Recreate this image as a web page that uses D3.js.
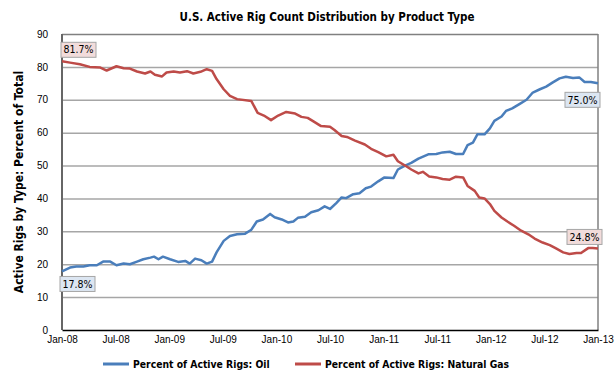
<!DOCTYPE html>
<html>
<head>
<meta charset="utf-8">
<script src="https://cdn.jsdelivr.net/npm/d3@7"></script>
<style>
  body { margin: 0; background: #fff; }
  svg { font-family: "Liberation Sans Narrow", "DejaVu Sans Condensed", "Arial Narrow", sans-serif; }
</style>
</head>
<body>
<svg id="chart" width="615" height="377"></svg>
<script>
// months since Jan-08
const oilMonths = [0, 0.9, 1.6, 2.4, 3.1, 3.9, 4.6, 5.4, 6.1, 6.9, 7.6, 8.4, 9.1, 9.9, 10.3, 10.8, 11.3, 12.1, 13.0, 13.8,
  14.3, 14.9, 15.6, 16.2, 16.8, 17.3, 18.1, 18.8, 19.6, 20.5, 21.2, 21.8, 22.5, 23.3, 23.8, 24.6, 25.3, 25.9, 26.4, 27.2,
  27.9, 28.7, 29.4, 30.0, 30.7, 31.3, 31.8, 32.6, 33.3, 34.0, 34.6, 35.4, 36.1, 37.1, 37.6, 38.4, 39.1, 39.9, 41.0, 41.9,
  42.6, 43.4, 44.1, 44.9, 45.4, 46.0, 46.5, 47.3, 47.9, 48.4, 49.2, 49.7, 50.4, 51.2, 52.0, 52.7, 53.5, 54.2, 54.9, 55.7,
  56.4, 57.2, 57.9, 58.5, 59.2, 60];
const oilValues = [17.8, 19.0, 19.3, 19.3, 19.7, 19.7, 20.8, 20.8, 19.7, 20.2, 20.0, 20.8, 21.5, 22.0, 22.3, 21.5, 22.3, 21.5, 20.7, 21.0,
  20.2, 21.7, 21.2, 20.2, 20.8, 23.6, 27.1, 28.6, 29.1, 29.3, 30.5, 33.0, 33.6, 35.3, 34.3, 33.6, 32.7, 33.0, 34.1, 34.4,
  35.8, 36.4, 37.6, 36.8, 38.6, 40.3, 40.1, 41.3, 41.6, 43.1, 43.6, 45.2, 46.4, 46.2, 48.8, 50.0, 50.8, 52.1, 53.4, 53.5,
  54.0, 54.2, 53.5, 53.5, 56.2, 57.0, 59.5, 59.5, 61.3, 63.6, 64.9, 66.6, 67.4, 68.7, 70.0, 72.2, 73.2, 74.0, 75.2, 76.5,
  77.0, 76.6, 76.8, 75.4, 75.4, 75.0];

const gasMonths = [0, 0.9, 2.0, 3.1, 4.3, 5.0, 6.1, 6.9, 7.6, 8.4, 9.3, 9.9, 10.4, 11.2, 11.7, 12.5, 13.2, 14.0, 14.7, 15.5,
  16.2, 16.8, 17.3, 18.1, 18.8, 19.6, 21.2, 21.9, 22.6, 23.4, 24.2, 25.1, 26.1, 26.8, 27.5, 28.1, 29.0, 30.0, 30.5, 31.3,
  31.9, 32.8, 33.9, 34.6, 35.4, 36.3, 37.1, 37.6, 38.4, 39.1, 39.9, 40.4, 41.1, 41.9, 42.6, 43.4, 44.1, 44.9, 45.4, 46.2,
  46.7, 47.3, 47.9, 48.4, 49.2, 49.9, 50.6, 51.4, 52.2, 52.9, 53.8, 54.6, 55.3, 56.1, 56.8, 57.6, 58.1, 58.9, 59.4, 60];
const gasValues = [81.7, 81.3, 80.8, 80.0, 79.8, 78.9, 80.2, 79.6, 79.5, 78.6, 78.0, 78.6, 77.6, 77.1, 78.3, 78.6, 78.3, 78.7, 78.0, 78.5,
  79.3, 78.8, 76.3, 73.2, 71.2, 70.2, 69.6, 66.0, 65.2, 63.8, 65.2, 66.3, 65.8, 64.8, 64.5, 63.5, 62.0, 61.8, 60.8, 59.0,
  58.7, 57.6, 56.4, 55.1, 54.1, 52.8, 53.3, 51.3, 50.0, 48.8, 47.6, 48.1, 46.7, 46.4, 45.9, 45.7, 46.6, 46.4, 43.8, 42.3,
  40.3, 40.0, 38.3, 36.2, 34.2, 32.9, 31.7, 30.2, 29.1, 27.8, 26.6, 25.8, 24.8, 23.6, 23.1, 23.4, 23.4, 24.9, 24.9, 24.8];

const xTickMonths = [0, 6, 12, 18, 24, 30, 36, 42, 48, 54, 60];
const xTickLabels = ["Jan-08", "Jul-08", "Jan-09", "Jul-09", "Jan-10", "Jul-10", "Jan-11", "Jul-11", "Jan-12", "Jul-12", "Jan-13"];
const yTicks = [0, 10, 20, 30, 40, 50, 60, 70, 80, 90];
const seriesNames = ["Percent of Active Rigs: Oil", "Percent of Active Rigs: Natural Gas"];

const oilColor = "#4a7ebb";
const gasColor = "#be4b48";

const svg = d3.select("#chart");
const margin = {top: 34, right: 17, bottom: 47, left: 62};
const width = 615 - margin.left - margin.right;
const height = 377 - margin.top - margin.bottom;

const x = d3.scaleLinear().domain([0, 60]).range([0, width]);
const y = d3.scaleLinear().domain([0, 90]).range([height, 0]);

const g = svg.append("g").attr("transform", "translate(" + margin.left + "," + margin.top + ")");

// gridlines + y labels
const yAxis = g.append("g")
  .call(d3.axisLeft(y).tickValues(yTicks).tickSize(-width).tickPadding(14));
yAxis.select(".domain").remove();
yAxis.selectAll(".tick line")
  .attr("stroke", d => d === 90 ? "#808080" : "#a6a6a6")
  .attr("stroke-width", 1.5)
  .style("display", d => d === 0 ? "none" : null);
yAxis.selectAll(".tick text").style("font-size", "10px").attr("fill", "#000");

// right border
g.append("line")
  .attr("x1", width).attr("x2", width).attr("y1", 0).attr("y2", height)
  .attr("stroke", "#808080").attr("stroke-width", 1.5);

// left axis line
g.append("line")
  .attr("x1", 0).attr("x2", 0).attr("y1", 0).attr("y2", height)
  .attr("stroke", "#666").attr("stroke-width", 2);

// x axis
const xAxis = g.append("g")
  .attr("transform", "translate(0," + height + ")")
  .call(d3.axisBottom(x).tickValues(xTickMonths).tickSize(0).tickPadding(6)
    .tickFormat((d, i) => xTickLabels[i]));
xAxis.select(".domain").attr("stroke", "#000").attr("stroke-width", 1.5);
xAxis.selectAll(".tick text").style("font-size", "10px").attr("fill", "#000");

// lines
const line = d3.line().x(d => x(d[0])).y(d => y(d[1]));
const oilData = oilMonths.map((m, i) => [m, oilValues[i]]);
const gasData = gasMonths.map((m, i) => [m, gasValues[i]]);

g.append("path").datum(oilData)
  .attr("fill", "none").attr("stroke", oilColor).attr("stroke-width", 2.5)
  .attr("stroke-linejoin", "round").attr("d", line);
g.append("path").datum(gasData)
  .attr("fill", "none").attr("stroke", gasColor).attr("stroke-width", 2.5)
  .attr("stroke-linejoin", "round").attr("d", line);

// value labels at the ends
function valueLabel(px, py, text, fill, anchor) {
  const w = 35, h = 15;
  const left = anchor === "end" ? px - w : px;
  g.append("rect")
    .attr("x", left).attr("y", py).attr("width", w).attr("height", h)
    .attr("fill", fill).attr("stroke", "#a6a6a6").attr("stroke-width", 1);
  g.append("text")
    .attr("x", left + w / 2).attr("y", py + h / 2)
    .attr("dy", "0.35em").attr("text-anchor", "middle")
    .style("font-size", "10.5px").text(text);
}
const lastOil = oilData[oilData.length - 1];
const lastGas = gasData[gasData.length - 1];
valueLabel(x(gasData[0][0]) - 1, y(gasData[0][1]) - 19, gasData[0][1].toFixed(1) + "%", "#f2dcdb", "start");
valueLabel(x(oilData[0][0]) - 2, y(oilData[0][1]) + 5, oilData[0][1].toFixed(1) + "%", "#dce6f2", "start");
valueLabel(x(lastOil[0]) + 2, y(lastOil[1]) + 9, lastOil[1].toFixed(1) + "%", "#dce6f2", "end");
valueLabel(x(lastGas[0]) + 4, y(lastGas[1]) - 19, lastGas[1].toFixed(1) + "%", "#f2dcdb", "end");

// title
svg.append("text")
  .attr("x", margin.left + width / 2 - 3).attr("y", 21)
  .attr("text-anchor", "middle")
  .style("font-size", "11.5px").style("font-weight", "bold")
  .text("U.S. Active Rig Count Distribution by Product Type");

// y axis title
svg.append("text")
  .attr("transform", "translate(23," + (margin.top + height / 2) + ") rotate(-90)")
  .attr("text-anchor", "middle")
  .style("font-size", "12px").style("font-weight", "bold")
  .text("Active Rigs by Type: Percent of Total");

// legend
const legendItems = [
  {name: seriesNames[0], color: oilColor, x: 103},
  {name: seriesNames[1], color: gasColor, x: 295}
];
const legend = svg.append("g").attr("transform", "translate(0,364)");
legendItems.forEach(item => {
  legend.append("line")
    .attr("x1", item.x).attr("x2", item.x + 26).attr("y1", 0).attr("y2", 0)
    .attr("stroke", item.color).attr("stroke-width", 3);
  legend.append("text")
    .attr("x", item.x + 30).attr("y", 0).attr("dy", "0.35em")
    .style("font-size", "10.3px").style("font-weight", "bold")
    .text(item.name);
});
</script>
</body>
</html>
